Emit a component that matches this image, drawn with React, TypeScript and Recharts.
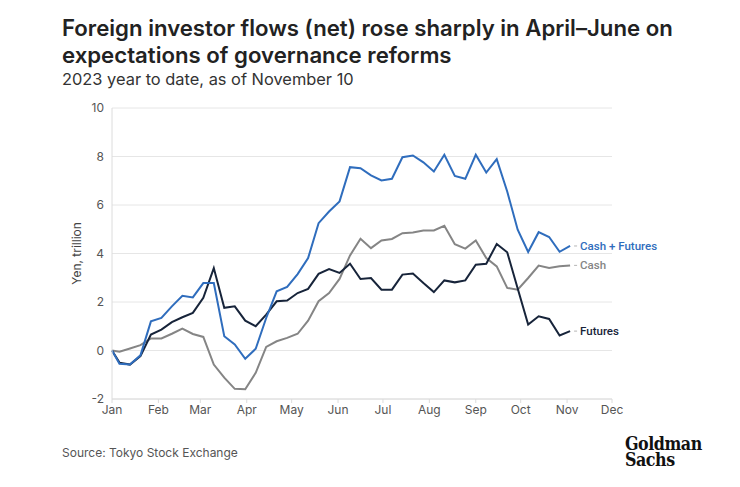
import { CartesianGrid, Line, LineChart, XAxis, YAxis } from "recharts";

// day of year (0 = Jan 1); first point is the Jan 1 start, then weekly readings
const days = [
  0, 5, 12, 19, 26, 33, 40, 47, 54, 61, 68, 75, 82, 89, 96, 103, 110, 117, 124, 131, 138, 145, 152,
  159, 166, 173, 180, 187, 194, 201, 208, 215, 222, 229, 236, 243, 250, 257, 264, 271, 278, 285,
  292, 299, 306,
];

// Yen, trillion
const cashFutures = [
  0, -0.55, -0.58, -0.2, 1.2, 1.34, 1.82, 2.26, 2.19, 2.78, 2.78, 0.59, 0.25, -0.34, 0.07, 1.34,
  2.44, 2.62, 3.15, 3.81, 5.25, 5.73, 6.15, 7.56, 7.52, 7.22, 7.01, 7.08, 7.97, 8.04, 7.76, 7.38,
  8.07, 7.2, 7.08, 8.07, 7.34, 7.89, 6.56, 4.98, 4.06, 4.88, 4.68, 4.07, 4.31,
];
const cash = [
  0, -0.05, 0.08, 0.22, 0.5, 0.5, 0.69, 0.9, 0.68, 0.56, -0.58, -1.12, -1.58, -1.6, -0.92, 0.15,
  0.38, 0.52, 0.69, 1.23, 2.03, 2.37, 2.95, 3.92, 4.61, 4.22, 4.54, 4.6, 4.84, 4.87, 4.95, 4.95,
  5.14, 4.38, 4.2, 4.54, 3.81, 3.47, 2.58, 2.51, 2.99, 3.5, 3.4, 3.47, 3.51,
];
const futures = [
  0, -0.5, -0.58, -0.23, 0.66, 0.86, 1.17, 1.37, 1.55, 2.17, 3.4, 1.76, 1.82, 1.23, 1.0, 1.48,
  2.03, 2.06, 2.37, 2.54, 3.16, 3.36, 3.2, 3.58, 2.95, 2.99, 2.51, 2.51, 3.13, 3.17, 2.78, 2.41,
  2.89, 2.81, 2.89, 3.54, 3.58, 4.39, 4.05, 2.56, 1.07, 1.41, 1.3, 0.62, 0.8,
];

const monthTicks = [0, 31, 59, 90, 120, 151, 181, 212, 243, 273, 304, 334];
const monthNames = ["Jan", "Feb", "Mar", "Apr", "May", "Jun", "Jul", "Aug", "Sep", "Oct", "Nov", "Dec"];
const yTicks = [-2, 0, 2, 4, 6, 8, 10];

const BLUE = "#2f6dbd";
const GRAY = "#858585";
const NAVY = "#17243a";
const FONT = "Inter, 'Noto Sans', sans-serif";
const NARROW = "Roboto, 'Noto Sans', sans-serif";

const data = days.map((day, i) => ({
  day,
  cashFutures: cashFutures[i],
  cash: cash[i],
  futures: futures[i],
}));

const endLabel = (text: string, color: string) => (props: any) => {
  const { x, y, index } = props;
  if (index !== data.length - 1) return <g />;
  return (
    <g>
      <line x1={x + 4} x2={x + 7} y1={y} y2={y} stroke="#b5b5b5" strokeWidth={1} />
      <text x={x + 10} y={y} dy={4} fill={color} fontSize={11.5} fontWeight={500} fontFamily={NARROW}>
        {text}
      </text>
    </g>
  );
};

const logoStyle = {
  position: "absolute" as const,
  left: 625,
  height: 16,
  fontFamily: "'DejaVu Serif Condensed', 'DejaVu Serif', serif",
  fontWeight: 700,
  fontSize: 19,
  lineHeight: "16px",
  color: "#111",
  letterSpacing: -0.5,
  transform: "scaleX(0.93)",
  transformOrigin: "left top",
};

export default function App() {
  return (
    <div
      style={{
        position: "absolute",
        left: 0,
        top: 0,
        width: 740,
        height: 487,
        background: "#fff",
        fontFamily: FONT,
      }}
    >
      <div style={{ position: "absolute", left: 62, top: 14, fontSize: 22.2, fontWeight: 600, lineHeight: "27px", color: "#222" }}>
        Foreign investor flows (net) rose sharply in April–June on
        <br />
        expectations of governance reforms
      </div>
      <div style={{ position: "absolute", left: 62, top: 69, fontSize: 16.4, lineHeight: "20px", color: "#333" }}>
        2023 year to date, as of November 10
      </div>

      <LineChart
        width={740}
        height={487}
        data={data}
        margin={{ top: 108, right: 128, bottom: 68, left: 62 }}
        style={{ position: "absolute", left: 0, top: 0 }}
      >
        <CartesianGrid vertical={false} stroke="#e6e6e6" />
        <XAxis
          type="number"
          dataKey="day"
          domain={[0, 334]}
          ticks={monthTicks}
          tickFormatter={(v: number) => monthNames[monthTicks.indexOf(v)]}
          axisLine={{ stroke: "#dcdcdc" }}
          tickLine={{ stroke: "#dcdcdc" }}
          tickSize={4}
          tick={{ fontSize: 12, fill: "#555", fontFamily: FONT }}
          height={20}
        />
        <YAxis
          domain={[-2, 10]}
          ticks={yTicks}
          width={50}
          axisLine={{ stroke: "#dcdcdc" }}
          tickLine={false}
          tick={{ fontSize: 12, fill: "#555", fontFamily: FONT }}
          label={{
            value: "Yen, trillion",
            angle: -90,
            position: "insideLeft",
            offset: 15,
            style: { fontSize: 12, fill: "#444", fontFamily: FONT, textAnchor: "middle" },
          }}
        />
        <Line
          dataKey="cash"
          stroke={GRAY}
          strokeWidth={2}
          dot={false}
          isAnimationActive={false}
          label={endLabel("Cash", GRAY)}
        />
        <Line
          dataKey="futures"
          stroke={NAVY}
          strokeWidth={2}
          dot={false}
          isAnimationActive={false}
          label={endLabel("Futures", NAVY)}
        />
        <Line
          dataKey="cashFutures"
          stroke={BLUE}
          strokeWidth={2}
          dot={false}
          isAnimationActive={false}
          label={endLabel("Cash + Futures", BLUE)}
        />
      </LineChart>

      <div style={{ position: "absolute", left: 62, top: 445, fontSize: 12, color: "#555" }}>
        Source: Tokyo Stock Exchange
      </div>
      <div style={{ ...logoStyle, top: 435 }}>Goldman</div>
      <div style={{ ...logoStyle, top: 451 }}>Sachs</div>
    </div>
  );
}
